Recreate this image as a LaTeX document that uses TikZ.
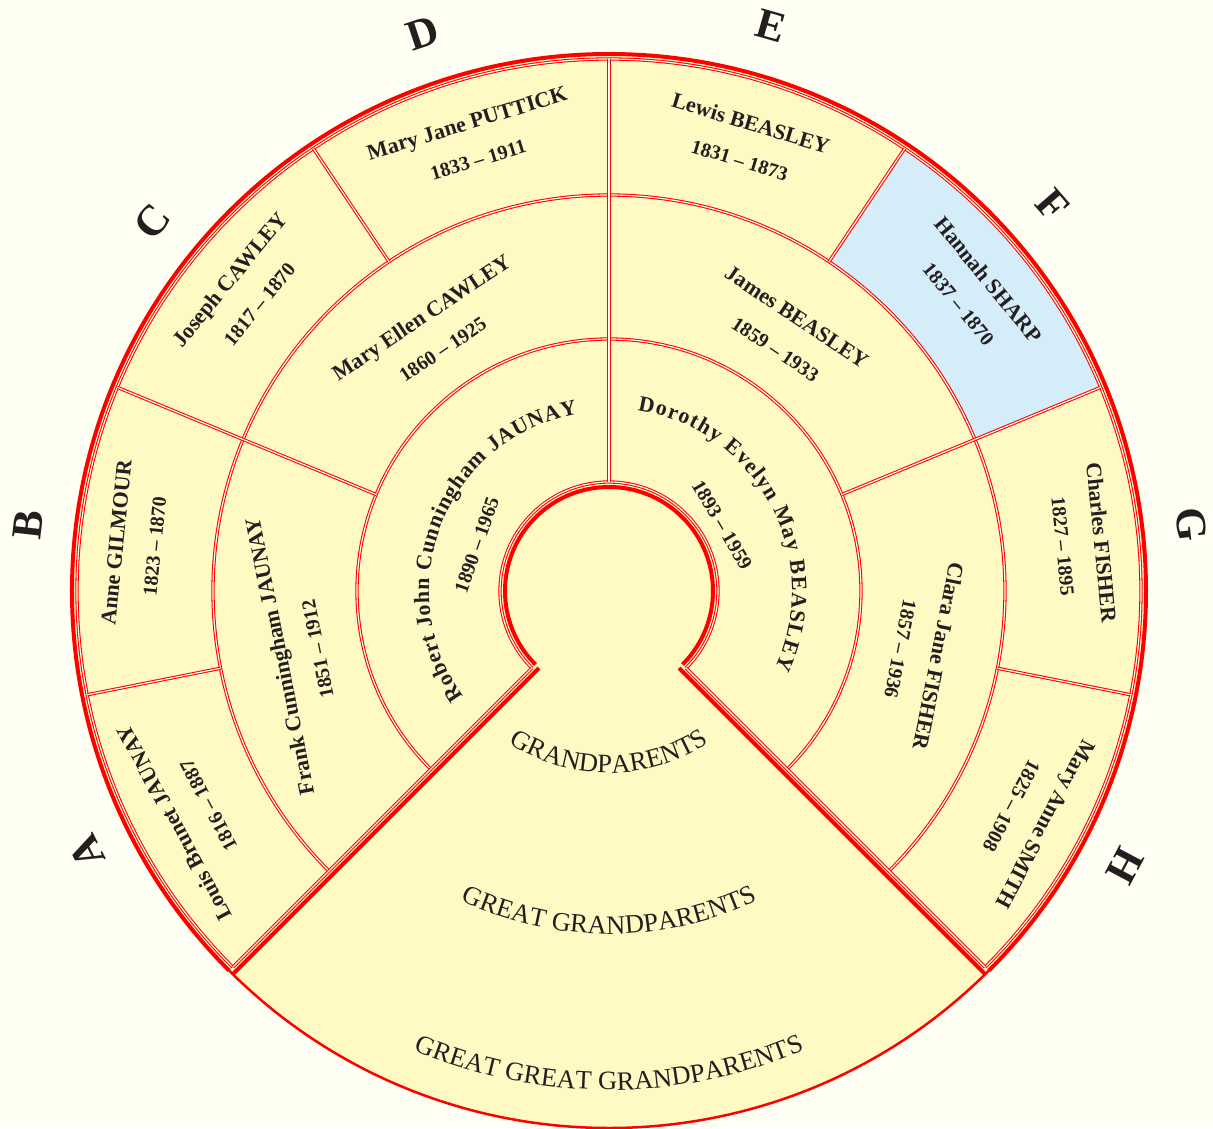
\documentclass[tikz,border=0pt]{standalone}
\usepackage{fontspec}
\setmainfont{Liberation Serif}
\usetikzlibrary{decorations.text}
\definecolor{paper}{HTML}{FFFFF4}
\definecolor{fanyellow}{HTML}{FFF9C3}
\definecolor{fanblue}{HTML}{D5ECF9}
\definecolor{chartred}{HTML}{FF0000}
\definecolor{ink}{HTML}{231F20}
\newcommand{\namefont}{\bfseries\fontsize{22}{38}\selectfont}
\newcommand{\datefont}{\bfseries\fontsize{20}{38}\selectfont}
\newcommand{\genfont}{\fontsize{26.5}{30}\selectfont}
\tikzset{
  seg/.style={draw=chartred, line width=1.05pt, double=paper, double distance=1.2pt},
  rim/.style={draw=chartred, line width=4pt},
  person/.style={text=ink, align=center, font=\namefont, inner sep=0pt},
  letter/.style={text=ink, font=\bfseries\fontsize{43}{43}\selectfont, inner sep=0pt},
  generation/.style={decorate, decoration={text along path, text align=center, text color=ink}}
}
\begin{document}
\begin{tikzpicture}[x=1pt, y=1pt]
  \fill[paper] (-609,-537) rectangle (604,591);
  \useasboundingbox (-609,-537) rectangle (604,591);
  \fill[fanyellow] (0,0) circle (537);
  \fill[fanblue] (22.5:396) arc[start angle=22.5, end angle=56.25, radius=396] -- (56.25:532) arc[start angle=56.25, end angle=22.5, radius=532] -- cycle;

  \draw[chartred, line width=2.5pt] (225:537) arc[start angle=225, end angle=315, radius=537];
  \draw[rim] (225:537) arc[start angle=225, end angle=-45, radius=537];
  \draw[rim] (225:104) arc[start angle=225, end angle=-45, radius=104];
  \draw[rim, shift={(315:5)}] (225:104) -- (225:537);
  \draw[rim, shift={(225:5)}] (-45:104) -- (-45:537);

  \draw[seg] (225:109) arc[start angle=225, end angle=-45, radius=109];
  \draw[seg] (225:252) arc[start angle=225, end angle=-45, radius=252];
  \draw[seg] (225:396) arc[start angle=225, end angle=-45, radius=396];
  \draw[seg] (225:532) arc[start angle=225, end angle=-45, radius=532];
  \draw[seg] (225:109) -- (225:532);
  \draw[seg] (-45:109) -- (-45:532);
  \draw[seg] (90:109) -- (90:532);
  \draw[seg] (157.5:252) -- (157.5:532);
  \draw[seg] (22.5:252) -- (22.5:532);
  \draw[seg] (191.25:396) -- (191.25:532);
  \draw[seg] (123.75:396) -- (123.75:532);
  \draw[seg] (56.25:396) -- (56.25:532);
  \draw[seg] (-11.25:396) -- (-11.25:532);

  \path[decorate, decoration={text along path, text align={fit to path}, text color=ink, text={|\namefont|Robert John Cunningham JAUNAY}}] (216:180) arc[start angle=216, end angle=100, radius=180];
  \path[decorate, decoration={text along path, text align={fit to path}, text color=ink, text={|\namefont|Dorothy Evelyn May BEASLEY}}] (81:183) arc[start angle=81, end angle=-25, radius=183];
  \node[person, font=\datefont, rotate=70.8] (robertdates) at (160.8:140) {1890 – 1965};
  \node[person, font=\datefont, rotate=-59.7] (dorothydates) at (30.3:131) {1893 – 1959};

  \node[person, rotate=101.25] (frank) at (191.25:317) {Frank Cunningham JAUNAY\\\datefont 1851 – 1912};
  \node[person, rotate=33.75] (maryellen) at (124.5:313) {Mary Ellen CAWLEY\\\datefont 1860 – 1925};
  \node[person, rotate=-33.75] (james) at (55.5:313) {James BEASLEY\\\datefont 1859 – 1933};
  \node[person, rotate=-101.25] (clara) at (-11.25:317) {Clara Jane FISHER\\\datefont 1857 – 1936};

  \node[person, rotate=118.125] (louis) at (208.125:474) {Louis Brunet JAUNAY\\\datefont 1816 – 1887};
  \node[person, rotate=84.375] (anne) at (174.375:476) {Anne GILMOUR\\\datefont 1823 – 1870};
  \node[person, rotate=50.625] (joseph) at (140.625:472) {Joseph CAWLEY\\\datefont 1817 – 1870};
  \node[person, rotate=16.875] (maryjane) at (106.875:470) {Mary Jane PUTTICK\\\datefont 1833 – 1911};
  \node[person, rotate=-16.875] (lewis) at (73.125:470) {Lewis BEASLEY\\\datefont 1831 – 1873};
  \node[person, rotate=-50.625] (hannah) at (39.375:472) {Hannah SHARP\\\datefont 1837 – 1870};
  \node[person, rotate=-84.375] (charles) at (5.625:476) {Charles FISHER\\\datefont 1827 – 1895};
  \node[person, rotate=-118.125] (maryanne) at (-28.125:476) {Mary Anne SMITH\\\datefont 1825 – 1908};

  \node[letter, rotate=116.5] (A) at (206.5:584) {A};
  \node[letter, rotate=83.5] (B) at (173.5:585) {B};
  \node[letter, rotate=51] (C) at (141:587) {C};
  \node[letter, rotate=18.5] (D) at (108.5:588) {D};
  \node[letter, rotate=-16] (E) at (74:588) {E};
  \node[letter, rotate=-49] (F) at (41:588) {F};
  \node[letter, rotate=-83.5] (G) at (6.5:586) {G};
  \node[letter, rotate=-118] (H) at (-28:585) {H};

  \path[generation, decoration={text={|\genfont|GRANDPARENTS}}] (230:182) arc[start angle=230, end angle=310, radius=182];
  \path[generation, decoration={text={|\genfont|GREAT GRANDPARENTS}}] (235:343) arc[start angle=235, end angle=305, radius=343];
  \path[generation, decoration={text={|\genfont|GREAT GREAT GRANDPARENTS}}] (240:499) arc[start angle=240, end angle=300, radius=499];
\end{tikzpicture}
\end{document}
